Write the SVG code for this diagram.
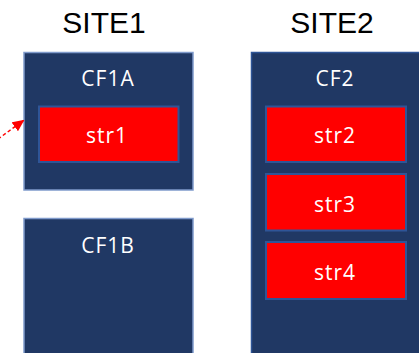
<svg xmlns="http://www.w3.org/2000/svg" width="419" height="353" viewBox="0 0 419 353">
  <defs>
    <marker id="arrow" viewBox="0 0 10 10" refX="9" refY="5" markerWidth="12" markerHeight="11" orient="auto" markerUnits="userSpaceOnUse" preserveAspectRatio="none">
      <path d="M0,0 L10,5 L0,10 Z" fill="#FF0000"/>
    </marker>
    <style>
      .site { font-family: "Liberation Sans", Arial, sans-serif; font-size: 30px; fill: #000; text-anchor: middle; }
      .cf { fill: #203864; stroke: #7F9ACB; stroke-width: 1.5; }
      .cf2 { fill: #203864; stroke: #2F5597; stroke-width: 1.5; }
      .str { fill: #FF0000; stroke: #2F5597; stroke-width: 2; }
      .lbl { font-family: "Open Sans", "Liberation Sans", sans-serif; font-size: 21px; fill: #FFFFFF; text-anchor: middle; letter-spacing: 1px; }
    </style>
  </defs>

  <rect width="419" height="353" fill="#FFFFFF"/>

  <text class="site" x="104" y="33">SITE1</text>
  <text class="site" x="332" y="33">SITE2</text>

  <g id="CF1A">
    <rect class="cf" x="24" y="52.5" width="169" height="137.5"/>
    <text class="lbl" x="108" y="86">CF1A</text>
  </g>
  <g id="str1">
    <rect class="str" x="39" y="106.5" width="139.5" height="55.5"/>
    <text class="lbl" x="107" y="143">str1</text>
  </g>

  <g id="CF1B">
    <rect class="cf" x="24" y="218.5" width="169" height="140"/>
    <text class="lbl" x="108" y="253">CF1B</text>
  </g>

  <g id="CF2">
    <rect class="cf2" x="251.5" y="52.5" width="175" height="306"/>
    <text class="lbl" x="335" y="86">CF2</text>
  </g>
  <g id="str2">
    <rect class="str" x="266" y="106.5" width="140" height="55.5"/>
    <text class="lbl" x="335" y="143">str2</text>
  </g>
  <g id="str3">
    <rect class="str" x="266" y="174" width="140" height="56.5"/>
    <text class="lbl" x="335" y="212">str3</text>
  </g>
  <g id="str4">
    <rect class="str" x="266" y="242" width="140" height="57"/>
    <text class="lbl" x="335" y="280">str4</text>
  </g>

  <g id="connectors">
    <line x1="-2" y1="139" x2="23.5" y2="120.5" stroke="#FF0000" stroke-width="1.4" stroke-dasharray="3.5,2.5" marker-end="url(#arrow)"/>
  </g>
</svg>
